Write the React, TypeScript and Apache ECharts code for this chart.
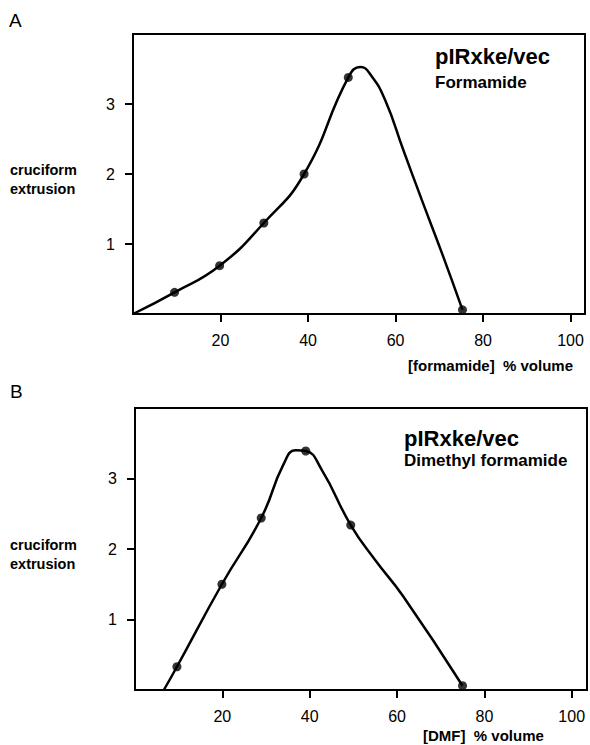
import React, { useEffect, useRef } from "react";
import * as echarts from "echarts";

// Panel A: formamide
const formamidePct = [9.5, 19.8, 29.9, 39.1, 49.2, 75.3];
const formamideExtrusion = [0.31, 0.69, 1.3, 2.0, 3.38, 0.06];
// hand-drawn fitted curve of panel A
const formamideCurvePct = [0, 9.5, 19.8, 29.9, 39.1, 49.2, 52, 54.5, 57.6, 61.8, 66, 70.9, 75.3];
const formamideCurveExt = [0, 0.31, 0.69, 1.3, 2.0, 3.38, 3.53, 3.4, 3.06, 2.34, 1.63, 0.82, 0.06];

// Panel B: dimethyl formamide
const dmfPct = [9.6, 19.9, 28.9, 39.1, 49.4, 75.0];
const dmfExtrusion = [0.33, 1.5, 2.44, 3.39, 2.34, 0.06];
// hand-drawn fitted curve of panel B
const dmfCurvePct = [6.6, 9.6, 19.9, 28.9, 34, 36.8, 39.1, 42.7, 49.4, 54.9, 61.4, 75.0];
const dmfCurveExt = [0, 0.33, 1.5, 2.44, 3.2, 3.4, 3.39, 3.13, 2.34, 1.85, 1.33, 0.06];

const xTickValues = [20, 40, 60, 80, 100];
const yTickValues = [1, 2, 3];

const FONT = "Liberation Sans, Arial, Helvetica, sans-serif";

const zip = (xs: number[], ys: number[]) => xs.map((x, i) => [x, ys[i]]);

export default function App() {
  const ref = useRef<HTMLDivElement>(null);
  useEffect(() => {
    if (!ref.current) return;
    const chart = echarts.init(ref.current, undefined, { renderer: "svg" });

    const mkX = (gridIndex: number, max: number) => ({
      type: "value" as const,
      gridIndex,
      min: 0,
      max,
      interval: 20,
      splitLine: { show: false },
      axisLine: { show: true, onZero: false, lineStyle: { color: "#000", width: 2 } },
      axisTick: {
        show: true,
        length: 8,
        customValues: xTickValues,
        lineStyle: { color: "#000", width: 2 },
      },
      axisLabel: {
        customValues: xTickValues,
        color: "#000",
        fontSize: 16,
        fontFamily: FONT,
        margin: 18,
      },
    });
    const mkY = (gridIndex: number) => ({
      type: "value" as const,
      gridIndex,
      min: 0,
      max: 4,
      interval: 1,
      splitLine: { show: false },
      axisLine: { show: true, onZero: false, lineStyle: { color: "#000", width: 2 } },
      axisTick: {
        show: true,
        length: 8,
        customValues: yTickValues,
        lineStyle: { color: "#000", width: 2 },
      },
      axisLabel: {
        customValues: yTickValues,
        color: "#000",
        fontSize: 16,
        fontFamily: FONT,
        margin: 18,
      },
    });

    const lineSeries = (idx: number, data: number[][]) => ({
      type: "line" as const,
      xAxisIndex: idx,
      yAxisIndex: idx,
      data,
      smooth: 0.5,
      showSymbol: false,
      symbol: "none",
      lineStyle: { color: "#000", width: 2.5 },
      silent: true,
      z: 2,
    });
    const dotSeries = (idx: number, data: number[][]) => ({
      type: "scatter" as const,
      xAxisIndex: idx,
      yAxisIndex: idx,
      data,
      symbol: "circle",
      symbolSize: 9,
      itemStyle: { color: "#000" },
      z: 3,
    });

    const txt = (
      text: string,
      x: number,
      y: number,
      size: number,
      bold: boolean,
      align: string = "left"
    ) => ({
      type: "text" as const,
      x,
      y,
      style: {
        text,
        fill: "#000",
        fontSize: size,
        fontWeight: bold ? "bold" : "normal",
        fontFamily: FONT,
        textAlign: align,
        textVerticalAlign: "middle",
      },
    });

    chart.setOption({
      animation: false,
      backgroundColor: "#fff",
      grid: [
        { left: 133, top: 34, width: 452, height: 280, show: true, borderColor: "#000", borderWidth: 2 },
        { left: 135, top: 408, width: 452, height: 282, show: true, borderColor: "#000", borderWidth: 2 },
      ],
      xAxis: [mkX(0, 103.3), mkX(1, 103.5)],
      yAxis: [mkY(0), mkY(1)],
      series: [
        lineSeries(0, zip(formamideCurvePct, formamideCurveExt)),
        dotSeries(0, zip(formamidePct, formamideExtrusion)),
        lineSeries(1, zip(dmfCurvePct, dmfCurveExt)),
        dotSeries(1, zip(dmfPct, dmfExtrusion)),
      ],
      graphic: [
        txt("A", 9, 20, 19, false),
        txt("cruciform", 10, 170, 14.5, true),
        txt("extrusion", 10, 189, 14.5, true),
        txt("pIRxke/vec", 435, 56, 22, true),
        txt("Formamide", 435, 82, 17, true),
        txt("[formamide]  % volume", 408, 365, 15, true),
        txt("B", 10, 391, 19, false),
        txt("cruciform", 10, 545, 14.5, true),
        txt("extrusion", 10, 564, 14.5, true),
        txt("pIRxke/vec", 404, 438, 22, true),
        txt("Dimethyl formamide", 404, 460, 17, true),
        txt("[DMF]  % volume", 423, 735, 15, true),
      ],
    });
    return () => chart.dispose();
  }, []);

  return (
    <div
      ref={ref}
      style={{ position: "absolute", left: 0, top: 0, width: 590, height: 745, background: "#fff" }}
    />
  );
}
